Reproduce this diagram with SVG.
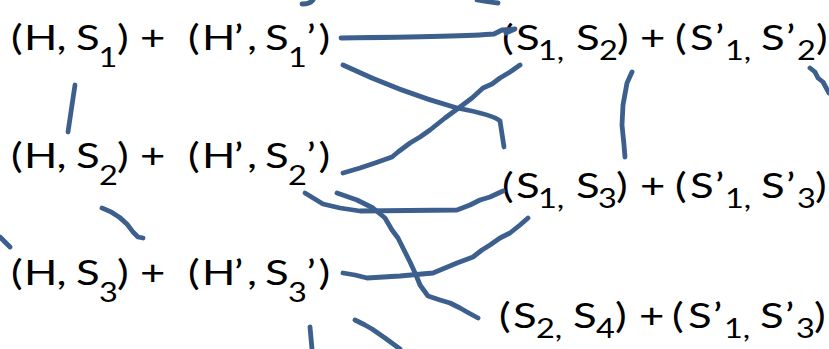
<svg xmlns="http://www.w3.org/2000/svg" width="829" height="349" viewBox="0 0 829 349">
<style>
text{font-family:Lato,"Open Sans","Liberation Sans",sans-serif;font-size:35px;fill:#000}
.s{font-size:26px}
.c{fill:none;stroke:#3C5F8D;stroke-width:4.8;stroke-linecap:round;stroke-linejoin:round}
</style>
<rect width="829" height="349" fill="#fff"/>
<g id="left1"><text y="50" transform="scale(1.25,1)"><tspan x="8.8">(</tspan><tspan x="19.2">H</tspan><tspan x="45.2">,</tspan><tspan x="60.8">S</tspan><tspan class="s" x="78.8" y="67">1</tspan><tspan x="93.6" y="50">)</tspan><tspan x="112">+</tspan><tspan x="150.4">(</tspan><tspan x="161.6">H</tspan><tspan x="187.2">’</tspan><tspan x="197.6">,</tspan><tspan x="212">S</tspan><tspan class="s" x="230.4" y="67">1</tspan><tspan x="245.2" y="50">’</tspan><tspan x="254.8">)</tspan></text></g>
<g id="left2"><text y="168" transform="scale(1.25,1)"><tspan x="8.8">(</tspan><tspan x="19.2">H</tspan><tspan x="45.2">,</tspan><tspan x="60.8">S</tspan><tspan class="s" x="79.2" y="185">2</tspan><tspan x="93.6" y="168">)</tspan><tspan x="112">+</tspan><tspan x="150.4">(</tspan><tspan x="161.6">H</tspan><tspan x="187.2">’</tspan><tspan x="197.6">,</tspan><tspan x="212">S</tspan><tspan class="s" x="230.4" y="185">2</tspan><tspan x="245.2" y="168">’</tspan><tspan x="254.8">)</tspan></text></g>
<g id="left3"><text y="285" transform="scale(1.25,1)"><tspan x="8.8">(</tspan><tspan x="19.2">H</tspan><tspan x="45.2">,</tspan><tspan x="60.8">S</tspan><tspan class="s" x="79.2" y="302">3</tspan><tspan x="93.6" y="285">)</tspan><tspan x="112">+</tspan><tspan x="150.4">(</tspan><tspan x="161.6">H</tspan><tspan x="187.2">’</tspan><tspan x="197.6">,</tspan><tspan x="212">S</tspan><tspan class="s" x="230.4" y="302">3</tspan><tspan x="245.2" y="285">’</tspan><tspan x="254.8">)</tspan></text></g>
<g id="right1"><text y="50" transform="scale(1.25,1)"><tspan x="401.6">(</tspan><tspan x="412.8">S</tspan><tspan class="s" x="430.4" y="60">1,</tspan><tspan x="460.8" y="50">S</tspan><tspan class="s" x="479.2" y="60">2</tspan><tspan x="493.6" y="50">)</tspan><tspan x="512">+</tspan><tspan x="540">(</tspan><tspan x="552">S</tspan><tspan x="572">’</tspan><tspan class="s" x="580" y="60">1,</tspan><tspan x="608.8" y="50">S</tspan><tspan x="628.8">’</tspan><tspan class="s" x="637.6" y="60">2</tspan><tspan x="652.8" y="50">)</tspan></text></g>
<g id="right2"><text y="198" transform="scale(1.25,1)"><tspan x="401.6">(</tspan><tspan x="412.8">S</tspan><tspan class="s" x="430.4" y="208">1,</tspan><tspan x="460.8" y="198">S</tspan><tspan class="s" x="478.4" y="208">3</tspan><tspan x="492.8" y="198">)</tspan><tspan x="512">+</tspan><tspan x="540">(</tspan><tspan x="552">S</tspan><tspan x="572">’</tspan><tspan class="s" x="580" y="208">1,</tspan><tspan x="608.8" y="198">S</tspan><tspan x="628.8">’</tspan><tspan class="s" x="637.6" y="208">3</tspan><tspan x="652" y="198">)</tspan></text></g>
<g id="right3"><text y="328" transform="scale(1.25,1)"><tspan x="399.2">(</tspan><tspan x="410.4">S</tspan><tspan class="s" x="428.8" y="338">2,</tspan><tspan x="458.4" y="328">S</tspan><tspan class="s" x="476.8" y="338">4</tspan><tspan x="492" y="328">)</tspan><tspan x="511.2">+</tspan><tspan x="537.6">(</tspan><tspan x="550.4">S</tspan><tspan x="570.4">’</tspan><tspan class="s" x="579.2" y="338">1,</tspan><tspan x="608" y="328">S</tspan><tspan x="628">’</tspan><tspan class="s" x="636.8" y="338">3</tspan><tspan x="651.2" y="328">)</tspan></text></g>
<g id="connectors">
<path class="c" d="M302,4 Q310,4 313,0"/>
<path class="c" d="M477,0 Q488,2 498,3"/>
<path class="c" d="M341,38 C420,37 470,36 494,34 L502,30 L515,29 L506,33"/>
<path class="c" d="M343,65 Q400,92 457,108 Q494,115 500,121 L504,147"/>
<path class="c" d="M343,173 L360,168 L375,163 L392,157 L398,152 L410,143 L420,137 L430,130 L445,118 L460,107 L472,98 L483,88 L492,84 L500,78 L510,72 L520,65"/>
<path class="c" d="M632,72 L627,83 L623,105 L622,125 L624,145 L625,157"/>
<path class="c" d="M810,68 L815,72 L818,78 L823,82 L829,93"/>
<path class="c" d="M75,85 L72,105 L68,132"/>
<path class="c" d="M102,208 Q122,215 133,232 L138,237 L143,238"/>
<path class="c" d="M0,237 L10,247"/>
<path class="c" d="M305,193 L323,204 L340,208 L360,211 L457,210 L470,205 L480,200 L490,197 L503,191"/>
<path class="c" d="M337,193 L357,200 L373,208 L385,218 L392,230 L398,238 L404,250 L410,262 L416,275 L420,285 L428,296 L440,300 L450,303 L460,308 L467,312 L478,318"/>
<path class="c" d="M343,273 L355,275 L367,278 L400,276 L433,273 L445,268 L457,263 L473,257 L482,250 L490,245 L500,238 L510,233 L520,225 L528,218"/>
<path class="c" d="M310,327 L312,349"/>
<path class="c" d="M355,320 L365,325 L372,329 L385,338 L400,349"/>
</g>
</svg>
